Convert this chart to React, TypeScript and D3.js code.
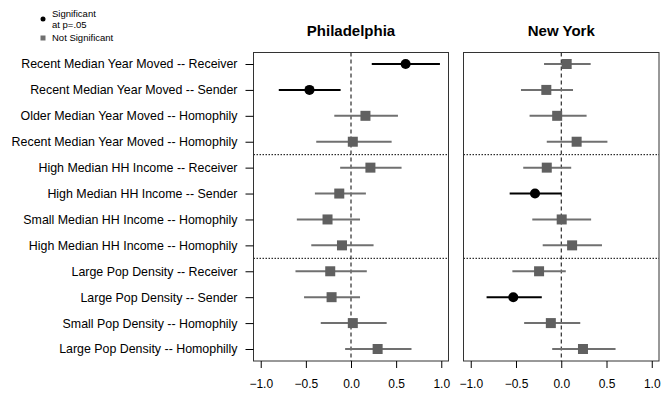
import React, { useEffect, useRef } from 'react';
import * as d3 from 'd3';

// Row labels, top to bottom
const labels = [
  'Recent Median Year Moved -- Receiver',
  'Recent Median Year Moved -- Sender',
  'Older Median Year Moved -- Homophily',
  'Recent Median Year Moved -- Homophily',
  'High Median HH Income -- Receiver',
  'High Median HH Income -- Sender',
  'Small Median HH Income -- Homophily',
  'High Median HH Income -- Homophily',
  'Large Pop Density -- Receiver',
  'Large Pop Density -- Sender',
  'Small Pop Density -- Homophily',
  'Large Pop Density -- Homophilly'
];

// Philadelphia estimates and 95% intervals
const phlEst = [0.605, -0.46, 0.16, 0.02, 0.215, -0.13, -0.26, -0.10, -0.23, -0.215, 0.02, 0.295];
const phlLo = [0.23, -0.80, -0.185, -0.385, -0.12, -0.40, -0.60, -0.44, -0.615, -0.52, -0.335, -0.065];
const phlHi = [0.985, -0.115, 0.52, 0.45, 0.56, 0.165, 0.10, 0.25, 0.175, 0.10, 0.395, 0.67];
const phlSig = [true, true, false, false, false, false, false, false, false, false, false, false];

// New York estimates and 95% intervals
const nyEst = [0.06, -0.165, -0.045, 0.17, -0.16, -0.29, 0.005, 0.12, -0.245, -0.53, -0.115, 0.24];
const nyLo = [-0.19, -0.445, -0.35, -0.16, -0.42, -0.57, -0.32, -0.205, -0.54, -0.825, -0.41, -0.10];
const nyHi = [0.325, 0.13, 0.28, 0.51, 0.11, 0.0, 0.33, 0.45, 0.05, -0.215, 0.21, 0.60];
const nySig = [false, false, false, false, false, true, false, false, false, true, false, false];

const xTicks = [-1.0, -0.5, 0.0, 0.5, 1.0];
const separatorsAfter = [3, 7]; // dotted line after these row indexes

const panels = [
  { title: 'Philadelphia', est: phlEst, lo: phlLo, hi: phlHi, sig: phlSig, left: 253.5, right: 448.5 },
  { title: 'New York', est: nyEst, lo: nyLo, hi: nyHi, sig: nySig, left: 463.5, right: 659 }
];

const FONT = 'Liberation Sans, Arial, sans-serif';

export default function App() {
  const svgRef = useRef<SVGSVGElement>(null);

  useEffect(() => {
    const svg = d3.select(svgRef.current);
    svg.selectAll('*').remove();

    const width = 669;
    const height = 394;
    const top = 52.5;
    const bottom = 361;

    svg.attr('width', width).attr('height', height);
    svg.append('rect').attr('width', width).attr('height', height).attr('fill', '#fff');

    const y = d3.scalePoint<number>()
      .domain(d3.range(labels.length))
      .range([64, 349]);

    panels.forEach((p, pi) => {
      const x = d3.scaleLinear().domain([-1.08, 1.08]).range([p.left, p.right]);
      const g = svg.append('g');

      // Title
      g.append('text')
        .attr('x', (p.left + p.right) / 2)
        .attr('y', 36)
        .attr('text-anchor', 'middle')
        .attr('font-family', FONT)
        .attr('font-size', '15px')
        .attr('font-weight', 'bold')
        .attr('fill', '#000')
        .text(p.title);

      // Zero line
      g.append('line')
        .attr('x1', x(0)).attr('x2', x(0))
        .attr('y1', top).attr('y2', bottom)
        .attr('stroke', '#000')
        .attr('stroke-width', 1)
        .attr('stroke-dasharray', '4,3');

      // Group separators
      separatorsAfter.forEach(i => {
        const yy = ((y(i) as number) + (y(i + 1) as number)) / 2;
        g.append('line')
          .attr('x1', p.left).attr('x2', p.right)
          .attr('y1', yy).attr('y2', yy)
          .attr('stroke', '#000')
          .attr('stroke-width', 1)
          .attr('stroke-dasharray', '1.5,1.5');
      });

      // Intervals and points
      labels.forEach((_, i) => {
        const cy = y(i) as number;
        const col = p.sig[i] ? '#000' : '#707070';
        g.append('line')
          .attr('x1', x(p.lo[i])).attr('x2', x(p.hi[i]))
          .attr('y1', cy).attr('y2', cy)
          .attr('stroke', col)
          .attr('stroke-width', 2);
        if (p.sig[i]) {
          g.append('circle')
            .attr('cx', x(p.est[i])).attr('cy', cy).attr('r', 5)
            .attr('fill', '#000');
        } else {
          g.append('rect')
            .attr('x', x(p.est[i]) - 5).attr('y', cy - 5)
            .attr('width', 10).attr('height', 10)
            .attr('fill', '#606060');
        }
      });

      // Frame
      g.append('rect')
        .attr('x', p.left).attr('y', top)
        .attr('width', p.right - p.left).attr('height', bottom - top)
        .attr('fill', 'none')
        .attr('stroke', '#333')
        .attr('stroke-width', 1);

      // X axis
      const ax = g.append('g')
        .attr('transform', `translate(0,${bottom})`)
        .call(d3.axisBottom(x).tickValues(xTicks).tickFormat(d3.format('.1f')).tickSize(7).tickPadding(11));
      ax.select('.domain').remove();
      ax.selectAll('line').attr('stroke', '#000');
      ax.selectAll('text')
        .attr('font-family', FONT)
        .attr('font-size', '12px')
        .attr('fill', '#000');

      // Y axis (first panel only)
      if (pi === 0) {
        const ay = g.append('g')
          .attr('transform', `translate(${p.left},0)`)
          .call(d3.axisLeft(y).tickFormat(i => labels[i as number]).tickSize(8).tickPadding(8));
        ay.select('.domain').remove();
        ay.selectAll('line').attr('stroke', '#000');
        ay.selectAll('text')
          .attr('font-family', FONT)
          .attr('font-size', '12.4px')
          .attr('fill', '#000');
      }
    });

    // Legend
    const lg = svg.append('g').attr('font-family', FONT).attr('font-size', '9.5px').attr('fill', '#000');
    lg.append('circle').attr('cx', 43).attr('cy', 19).attr('r', 2.5).attr('fill', '#000');
    lg.append('text').attr('x', 52).attr('y', 17).text('Significant');
    lg.append('text').attr('x', 52).attr('y', 28).text('at p=.05');
    lg.append('rect').attr('x', 40.5).attr('y', 35.5).attr('width', 5).attr('height', 5).attr('fill', '#707070');
    lg.append('text').attr('x', 52).attr('y', 41).text('Not Significant');
  }, []);

  return (
    <div style={{ position: 'absolute', left: 0, top: 0 }}>
      <svg ref={svgRef} style={{ display: 'block' }} />
    </div>
  );
}
